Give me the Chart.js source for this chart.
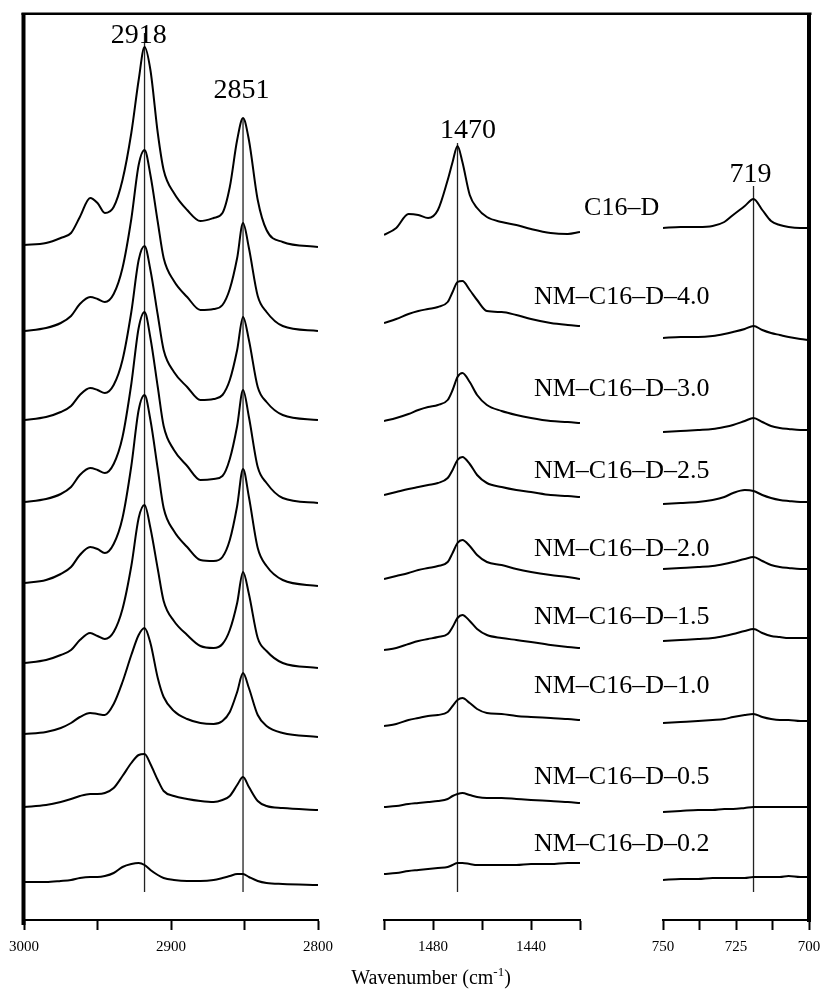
<!DOCTYPE html>
<html>
<head>
<meta charset="utf-8">
<script src="https://cdn.jsdelivr.net/npm/chart.js@4/dist/chart.umd.min.js"></script>
<style>
  html, body { margin: 0; background: #fff; }
  #wrap { position: relative; width: 821px; height: 990px; }
  #wrap canvas { position: absolute; left: 0; top: 0; }
</style>
</head>
<body>
<div id="wrap">
  <canvas id="p1" width="821" height="990"></canvas>
  <canvas id="p2" width="821" height="990"></canvas>
  <canvas id="p3" width="821" height="990"></canvas>
</div>
<script>
// sample names, top to bottom
const samples = ['C16–D', 'NM–C16–D–4.0', 'NM–C16–D–3.0', 'NM–C16–D–2.5', 'NM–C16–D–2.0',
                 'NM–C16–D–1.5', 'NM–C16–D–1.0', 'NM–C16–D–0.5', 'NM–C16–D–0.2'];

// wavenumbers (cm-1) for each of the three broken-axis panels
const wnStretch = [3000, 2985, 2975, 2968, 2962, 2955, 2950, 2945, 2939, 2933, 2927, 2922, 2918, 2914, 2909,
                   2905, 2898, 2889, 2880, 2871, 2865, 2860, 2855, 2851, 2847, 2841, 2835, 2824, 2800];
const wnBend = [1500, 1495, 1490, 1486, 1482, 1478, 1474, 1472, 1470, 1468, 1465, 1462, 1458, 1452, 1446,
                1440, 1432, 1425, 1420];
const wnRock = [750, 744, 738, 733, 729, 726, 722, 719, 716, 713, 710, 707, 703, 700];

// stacked absorbance (a.u., offset included), same order as samples
const stretchAbs = [
  [675,677,682,687,703,722,717,707,713,740,787,840,873,850,787,750,727,710,699,702,707,733,780,802,780,720,690,678,673],
  [589,592,597,604,616,623,621,618,626,652,701,755,770,745,698,662,639,623,610,611,615,631,662,697,672,624,608,594,589],
  [500,503,508,514,525,532,530,527,535,560,608,660,674,650,605,570,548,533,520,521,525,540,570,603,580,533,518,505,500],
  [418,421,426,433,445,452,450,447,456,483,536,592,608,582,533,494,470,454,440,441,444,461,494,530,503,453,437,422,417],
  [337,340,346,353,365,373,371,367,376,402,454,510,525,500,451,412,389,373,360,359,363,380,414,451,423,372,354,340,334],
  [257,260,265,270,280,287,284,281,288,311,354,402,415,392,351,319,299,285,274,272,276,290,317,348,326,282,269,257,252],
  [186,188,192,197,203,207,206,205,216,238,265,285,292,277,242,223,209,201,197,196,199,208,228,247,232,205,194,187,183],
  [113,115,118,121,124,126,126,127,132,144,157,165,166,156,140,129,124,121,119,118,120,124,135,143,133,119,114,112,110],
  [38,38,39,40,42,43,43,44,47,53,56,57,55,50,45,42,40,39,39,40,42,44,46,46,43,39,37,36,35]
];
const bendAbs = [
  [685,692,706,705,702,710,740,758,774,758,725,712,703,698,695,691,687,686,688],
  [597,601,606,609,611,613,618,628,638,639,630,620,609,608,605,601,597,595,594],
  [499,502,506,510,513,515,520,530,543,547,538,525,515,509,505,502,499,498,497],
  [425,428,431,433,435,437,442,450,460,463,456,445,437,433,430,428,425,424,423],
  [341,344,347,350,352,354,358,367,377,380,374,365,358,355,351,348,345,343,341],
  [270,272,276,279,281,283,286,293,302,305,299,291,285,282,280,278,275,273,272],
  [194,196,200,202,204,205,208,214,220,222,217,211,207,206,204,203,202,201,200],
  [113,114,116,117,118,119,121,124,126,127,125,123,122,122,121,120,119,118,117],
  [46,47,49,50,51,52,53,55,57,57,56,55,55,55,55,56,56,57,57]
];
const rockAbs = [
  [692,693,693,694,698,705,714,721,710,699,695,693,692,692],
  [582,583,583,584,586,588,591,594,590,587,585,583,581,580],
  [488,489,490,491,493,495,499,502,498,494,492,491,490,490],
  [416,417,418,420,423,427,430,429,425,422,420,419,418,418],
  [351,352,353,354,356,358,361,363,359,355,353,352,351,351],
  [279,280,281,282,284,286,289,291,287,284,283,282,282,282],
  [197,198,199,200,201,203,205,206,203,201,200,200,199,199],
  [108,109,110,110,111,111,112,113,113,113,113,113,113,113],
  [40,41,41,42,42,42,42,43,43,43,43,44,43,43]
];

// marked band positions and the span of their guide lines (a.u.)
const bandsStretch = [2918, 2851];
const bandsBend = [1470];
const bandsRock = [719];
const bandTops = { 2918: 887, 2851: 802, 1470: 777, 719: 734 };
const bandBottom = 28;

// tick labels shown on each axis segment
const tickLabelsStretch = [3000, 2900, 2800];
const tickLabelsBend = [1480, 1440];
const tickLabelsRock = [750, 725, 700];

// label placement (x in cm-1 of the panel, y in a.u.)
const sampleLabelWn = 1403;
const sampleLabelY = [712, 623, 531, 449, 371, 303, 234, 143, 76];
const bandLabelPos = { 2918: [2922, 884], 2851: [2852, 829], 1470: [1465.7, 789], 719: [720, 745] };

const serif = "'Liberation Serif', 'Times New Roman', serif";

function buildDatasets(xs, rows, bands) {
  const sets = rows.map((row, k) => ({
    label: samples[k],
    data: xs.map((x, i) => ({ x: x, y: row[i] })),
    borderColor: '#000',
    borderWidth: 2,
    pointRadius: 0,
    cubicInterpolationMode: 'monotone'
  }));
  bands.forEach(b => {
    sets.push({
      label: String(b),
      data: [{ x: b, y: bandTops[b] }, { x: b, y: bandBottom }],
      borderColor: '#222',
      borderWidth: 1.3,
      pointRadius: 0
    });
  });
  return sets;
}

function makePanel(id, xs, rows, bands, opts) {
  return new Chart(document.getElementById(id), {
    type: 'line',
    data: { datasets: buildDatasets(xs, rows, bands) },
    options: {
      responsive: false,
      animation: false,
      layout: { padding: { left: opts.left, right: 821 - opts.right, top: 14, bottom: 0 } },
      plugins: { legend: { display: false }, tooltip: { enabled: false } },
      scales: {
        x: {
          type: 'linear',
          min: opts.min,
          max: opts.max,
          reverse: true,
          afterFit: s => { s.height = 70; s.paddingLeft = 0; s.paddingRight = 0; },
          ticks: {
            stepSize: opts.step,
            autoSkip: false,
            maxRotation: 0,
            padding: 8,
            color: '#000',
            font: { family: serif, size: 15 },
            callback: v => (opts.labels.includes(v) ? String(v) : '')
          },
          grid: { drawOnChartArea: false, drawTicks: true, tickLength: 10, tickWidth: 2, tickColor: '#000' },
          border: { display: true, color: '#000', width: 2 }
        },
        y: { display: false, min: 0, max: 906 }
      }
    },
    plugins: [{ id: 'deco' + id, afterDraw: opts.draw }]
  });
}

function bandLabels(chart, bands) {
  const ctx = chart.ctx, xs = chart.scales.x, ys = chart.scales.y;
  ctx.save();
  ctx.fillStyle = '#000';
  ctx.font = '28px ' + serif;
  ctx.textAlign = 'center';
  ctx.textBaseline = 'middle';
  bands.forEach(b => {
    const p = bandLabelPos[b];
    ctx.fillText(String(b), xs.getPixelForValue(p[0]), ys.getPixelForValue(p[1]));
  });
  ctx.restore();
}

makePanel('p1', wnStretch, stretchAbs, bandsStretch, {
  min: 2800, max: 3000, step: 50, labels: tickLabelsStretch, left: 24, right: 318,
  draw: chart => {
    const ctx = chart.ctx;
    ctx.save();
    ctx.fillStyle = '#000';
    ctx.fillRect(21.5, 13, 4, 912);     // left frame
    ctx.fillRect(21.5, 12.5, 790, 2.5); // top frame
    ctx.restore();
    bandLabels(chart, bandsStretch);
  }
});

makePanel('p2', wnBend, bendAbs, bandsBend, {
  min: 1420, max: 1500, step: 20, labels: tickLabelsBend, left: 384, right: 580,
  draw: chart => {
    const ctx = chart.ctx, xs = chart.scales.x, ys = chart.scales.y;
    bandLabels(chart, bandsBend);
    ctx.save();
    ctx.fillStyle = '#000';
    ctx.font = '26px ' + serif;
    ctx.textAlign = 'center';
    ctx.textBaseline = 'middle';
    samples.forEach((s, k) => {
      ctx.fillText(s, xs.getPixelForValue(sampleLabelWn), ys.getPixelForValue(sampleLabelY[k]));
    });
    // axis title with superscript
    ctx.textBaseline = 'alphabetic';
    ctx.textAlign = 'left';
    ctx.font = '20px ' + serif;
    const main = 'Wavenumber (cm';
    const sup = '-1';
    const w1 = ctx.measureText(main).width;
    ctx.font = '13px ' + serif;
    const w2 = ctx.measureText(sup).width;
    ctx.font = '20px ' + serif;
    const w3 = ctx.measureText(')').width;
    const x0 = 431 - (w1 + w2 + w3) / 2;
    const base = 984;
    ctx.fillText(main, x0, base);
    ctx.font = '13px ' + serif;
    ctx.fillText(sup, x0 + w1, base - 8);
    ctx.font = '20px ' + serif;
    ctx.fillText(')', x0 + w1 + w2, base);
    ctx.restore();
  }
});

makePanel('p3', wnRock, rockAbs, bandsRock, {
  min: 700, max: 750, step: 12.5, labels: tickLabelsRock, left: 663, right: 809,
  draw: chart => {
    const ctx = chart.ctx;
    ctx.save();
    ctx.fillStyle = '#000';
    ctx.fillRect(807, 13, 4, 909);      // right frame
    ctx.restore();
    bandLabels(chart, bandsRock);
  }
});
</script>
</body>
</html>
